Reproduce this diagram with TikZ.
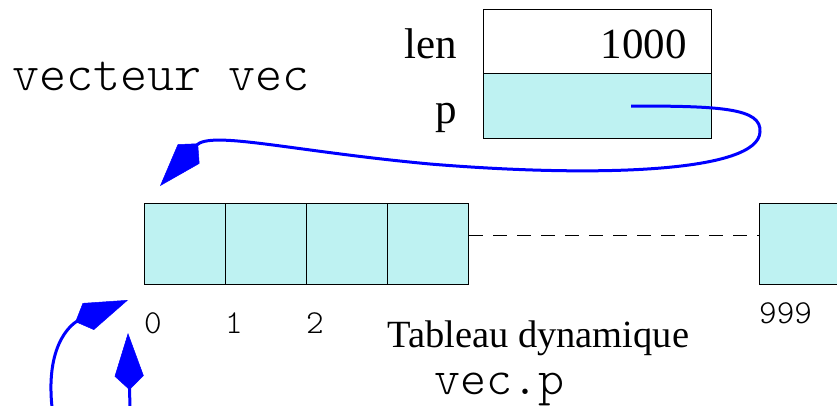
\documentclass[tikz,border=0pt]{standalone}
\usepackage{fontspec}
\setmainfont{Liberation Serif}
\setmonofont{Latin Modern Mono Light}
\usetikzlibrary{arrows.meta}
\definecolor{cellc}{RGB}{190,242,242}
\begin{document}
\begin{tikzpicture}[x=1pt,y=-1pt,
  cell/.style={draw=black, line width=1.2pt, fill=cellc, minimum width=81pt, minimum height=81pt, inner sep=0pt, anchor=north west},
  field/.style={draw=black, line width=1.2pt, minimum width=228pt, inner sep=0pt, anchor=north west},
  big/.style={font=\fontsize{43}{50}\selectfont, inner sep=0pt},
  mid/.style={font=\fontsize{38.5}{46}\selectfont, inner sep=0pt},
  monobig/.style={font=\ttfamily\fontsize{51.5}{58}\selectfont, inner sep=0pt},
  monovp/.style={font=\ttfamily\fontsize{49.5}{56}\selectfont, inner sep=0pt},
  monosmall/.style={font=\ttfamily\fontsize{33.5}{40}\selectfont, inner sep=0pt},
  ptr/.style={draw=blue, line width=3pt, -{Kite[length=57pt,width=29pt,inset=14pt,line width=0.5pt]}}]
\useasboundingbox (0,0) rectangle (837,405);
\clip (0,0) rectangle (837,405);
% struct
\node[field, minimum height=64pt] (lenbox) at (483,9) {};
\node[field, fill=cellc, minimum height=65pt] (pbox) at (483,73) {};
\node[big, anchor=base east] (lenlbl) at (457,58) {len};
\node[big, anchor=base east] (val) at (687,58) {1000};
\node[big, anchor=base east] (plbl) at (457,123) {p};
\node[monobig, anchor=base west] (title) at (12,90) {vecteur vec};
% array
\node[cell] (c0) at (144,203) {};
\node[cell] (c1) at (225,203) {};
\node[cell] (c2) at (306,203) {};
\node[cell] (c3) at (387,203) {};
\node[cell] (c999) at (759,203) {};
\draw[black, line width=1.2pt, dash pattern=on 14pt off 10pt] ([yshift=8.5pt]c3.east) -- ([yshift=8.5pt]c999.west);
\node[monosmall, anchor=base west] (i0) at (144,333) {0};
\node[monosmall, anchor=base west] (i1) at (225,333) {1};
\node[monosmall, anchor=base west] (i2) at (306,333) {2};
\node[monosmall, anchor=base west] (i999) at (759,323) {999};
\node[mid, anchor=base west] (tab) at (387,347) {Tableau dynamique};
\node[monovp, anchor=base west] (vecp) at (434,394) {vec.p};
% pointers
\coordinate (ps) at (631,106);
\coordinate (t1) at (160,186);
\coordinate (a1s) at (52,407);
\coordinate (t2) at (128,300);
\coordinate (a2s) at (130,407);
\coordinate (t3) at (128,333);
\draw[ptr] (ps) .. controls (720,106) and (762,108) .. (760,132)
  .. controls (758,172) and (600,178) .. (430,164)
  .. controls (290,151) and (210,130) .. (t1);
\draw[ptr] (a1s) .. controls (45,340) and (75,322) .. (t2);
\draw[ptr] (a2s) -- (t3);
\end{tikzpicture}
\end{document}
